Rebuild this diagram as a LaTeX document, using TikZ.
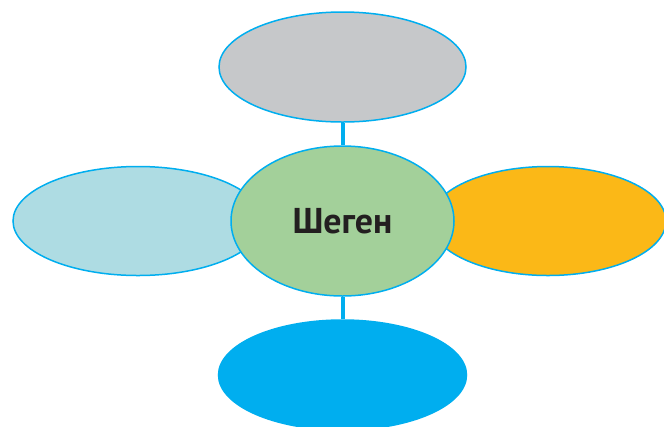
\documentclass[tikz,border=0pt]{standalone}
\usepackage{fontspec}
\setsansfont{PT Sans}
\usepackage{tikz}
\usetikzlibrary{shapes.geometric}
\definecolor{rim}{HTML}{00AEEF}
\definecolor{greyfill}{HTML}{C6C8CA}
\definecolor{greenfill}{HTML}{A3D09A}
\definecolor{palefill}{HTML}{AEDCE3}
\definecolor{orangefill}{HTML}{FBB817}
\definecolor{ink}{HTML}{231F20}
\begin{document}
\begin{tikzpicture}[
      x=1bp, y=-1bp,
      blob/.style={ellipse,draw=rim,line width=1.5bp,inner sep=0pt},
      link/.style={draw=rim,line width=4bp}
      ]
      \useasboundingbox (0,0) rectangle (664,426);
      \node[blob,fill=greyfill,minimum width=247bp,minimum height=110bp] (top) at (342.5,67) {};
      \node[blob,fill=palefill,minimum width=250bp,minimum height=109bp] (left) at (138,221) {};
      \node[blob,fill=orangefill,minimum width=236bp,minimum height=109bp] (right) at (548,221) {};
      \node[blob,fill=rim,minimum width=248bp,minimum height=110bp] (bottom) at (342.5,375) {};
      \node[blob,fill=greenfill,minimum width=223bp,minimum height=150bp,
            font=\sffamily\bfseries\fontsize{36}{40}\selectfont,text=ink] (centre) at (342.5,221) {Шеген};
      \draw[link] (top.south) -- (centre.north);
      \draw[link] (centre.south) -- (bottom.north);
\end{tikzpicture}
\end{document}
